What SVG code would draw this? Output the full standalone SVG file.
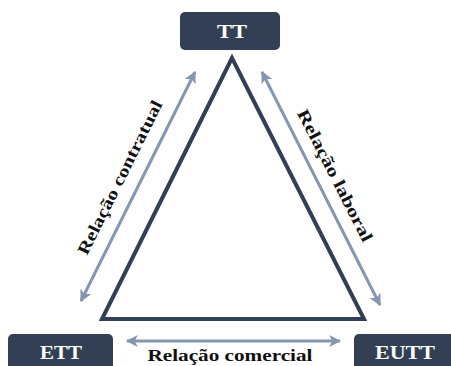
<svg xmlns="http://www.w3.org/2000/svg" width="451" height="366" viewBox="0 0 451 366">
<style>
.box{fill:#333F55;}
.lbl{font-family:"Liberation Serif",serif;font-weight:bold;fill:#ffffff;text-anchor:middle;font-size:18px;}
.rel{font-family:"Liberation Serif",serif;font-weight:bold;fill:#111111;text-anchor:middle;font-size:17px;}
.arr{stroke:#8497B0;stroke-width:3;fill:none;marker-start:url(#ah);marker-end:url(#ah);}
</style>
<defs>
<marker id="ah" viewBox="0 0 10 10" refX="9" refY="5" markerWidth="4" markerHeight="4" orient="auto-start-reverse" markerUnits="strokeWidth">
<path d="M0,0 L10,5 L0,10 L2.5,5 Z" fill="#8497B0"/>
</marker>
</defs>
<rect width="451" height="366" fill="#ffffff"/>
<g id="triangle">
<path d="M232,58 L102,319 L364,319 Z" fill="none" stroke="#333F55" stroke-width="4" stroke-linejoin="miter"/>
</g>
<g id="connectors">
<line class="arr" x1="81" y1="301" x2="195" y2="72"/>
<line class="arr" x1="262" y1="72" x2="380" y2="305"/>
<line class="arr" x1="127" y1="341" x2="340" y2="341"/>
</g>
<g id="TT">
<rect class="box" x="180" y="12" width="100" height="38" rx="5"/>
<text class="lbl" x="232" y="38" textLength="30" lengthAdjust="spacingAndGlyphs">TT</text>
</g>
<g id="ETT">
<rect class="box" x="8" y="334" width="105" height="40" rx="5"/>
<text class="lbl" x="61" y="359" textLength="42" lengthAdjust="spacingAndGlyphs">ETT</text>
</g>
<g id="EUTT">
<rect class="box" x="354" y="334" width="105" height="40" rx="5"/>
<text class="lbl" x="405" y="359" textLength="60" lengthAdjust="spacingAndGlyphs">EUTT</text>
</g>
<g id="labels">
<text class="rel" transform="translate(125,180) rotate(-63.5)" textLength="170" lengthAdjust="spacingAndGlyphs">Relação contratual</text>
<text class="rel" transform="translate(330,178) rotate(63)" textLength="146" lengthAdjust="spacingAndGlyphs">Relação laboral</text>
<text class="rel" x="230" y="361" textLength="165" lengthAdjust="spacingAndGlyphs">Relação comercial</text>
</g>
</svg>
